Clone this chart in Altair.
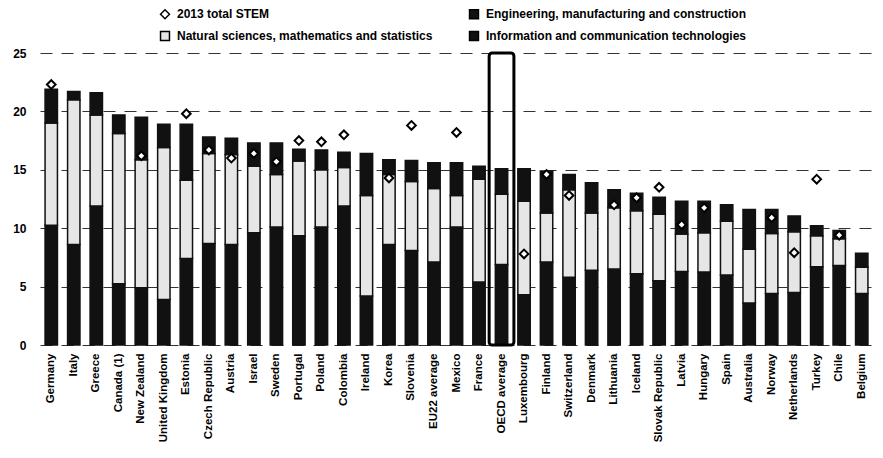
import altair as alt
import pandas as pd

countries = ["Germany", "Italy", "Greece", "Canada (1)", "New Zealand", "United Kingdom",
             "Estonia", "Czech Republic", "Austria", "Israel", "Sweden", "Portugal", "Poland",
             "Colombia", "Ireland", "Korea", "Slovenia", "EU22 average", "Mexico", "France",
             "OECD average", "Luxembourg", "Finland", "Switzerland", "Denmark", "Lithuania",
             "Iceland", "Slovak Republic", "Latvia", "Hungary", "Spain", "Australia", "Norway",
             "Netherlands", "Turkey", "Chile", "Belgium"]
engineering = [10.25, 8.6, 11.9, 5.25, 4.9, 3.9, 7.4, 8.7, 8.6, 9.6, 10.1, 9.35, 10.1, 11.9,
               4.2, 8.6, 8.1, 7.1, 10.1, 5.4, 6.9, 4.3, 7.1, 5.8, 6.4, 6.5, 6.1, 5.5, 6.3,
               6.25, 6.0, 3.6, 4.4, 4.5, 6.7, 6.8, 4.4]
natural = [8.75, 12.4, 7.8, 12.85, 10.95, 13.0, 6.7, 7.7, 7.7, 5.7, 4.5, 6.4, 4.9, 3.3, 8.6,
           6.0, 5.9, 6.3, 2.7, 8.8, 6.0, 8.0, 4.2, 7.5, 4.9, 5.25, 5.4, 5.7, 3.2, 3.35, 4.6,
           4.6, 5.15, 5.2, 2.65, 2.3, 2.25]
ict = [2.9, 0.7, 1.9, 1.6, 3.65, 2.0, 4.8, 1.4, 1.4, 2.0, 2.7, 1.0, 1.7, 1.3, 3.6, 1.25, 1.8,
       2.2, 2.8, 1.1, 2.2, 2.8, 3.6, 1.3, 2.6, 1.55, 1.5, 1.45, 2.8, 2.7, 1.4, 3.4, 2.05,
       1.35, 0.85, 0.7, 1.2]
stem_2013 = [22.3, None, None, None, 16.2, None, 19.8, 16.7, 16.0, 16.4, 15.7, 17.5, 17.4,
             18.0, None, 14.3, 18.8, None, 18.2, None, None, 7.8, 14.6, 12.8, None, 12.0,
             12.6, 13.5, 10.3, 11.75, None, None, 10.9, 7.9, 14.2, 9.4, None]

S_STEM = "2013 total STEM"
S_ENG = "Engineering, manufacturing and construction"
S_NAT = "Natural sciences, mathematics and statistics"
S_ICT = "Information and communication technologies"

highlight = ["OECD average"]
box_top = [25]
y_ticks = [0, 5, 10, 15, 20, 25]

legend_domain = [S_STEM, S_NAT, S_ENG, S_ICT]
legend_colors = ["white", "#e6e6e6", "#111111", "#111111"]
legend_shapes = ["diamond", "square", "square", "square"]

rows = []
for i, c in enumerate(countries):
    rows.append({"country": c, "series": S_ENG, "value": engineering[i], "order": 1})
    rows.append({"country": c, "series": S_NAT, "value": natural[i], "order": 2})
    rows.append({"country": c, "series": S_ICT, "value": ict[i], "order": 3})
bars_df = pd.DataFrame(rows)

pts_df = pd.DataFrame({"country": countries, "stem": stem_2013})
pts_df["series"] = S_STEM
pts_df = pts_df.dropna()

box_df = pd.DataFrame({"country": highlight, "lo": [0] * len(highlight), "hi": box_top})

FONT = "Liberation Sans"

legend = alt.Legend(title=None, orient="none", legendX=119, legendY=-45, columns=2,
                    columnPadding=33, rowPadding=6, symbolSize=80, labelFontSize=12,
                    labelFontWeight="bold", labelFont=FONT, labelLimit=400, labelOffset=6,
                    labelColor="black", symbolStrokeColor="black", symbolStrokeWidth=1.5,
                    padding=0)

color_scale = alt.Scale(domain=legend_domain, range=legend_colors)
shape_scale = alt.Scale(domain=legend_domain, range=legend_shapes)

x_enc = alt.X("country:N", sort=countries,
              scale=alt.Scale(paddingInner=0.45, paddingOuter=0.225),
              axis=alt.Axis(title=None, labelAngle=-90, labelFontSize=11.5,
                            labelFontWeight="bold", labelFont=FONT, labelColor="black",
                            ticks=False, domain=False, labelPadding=8, labelLimit=300))
y_scale = alt.Scale(domain=[0, 25], nice=False)
y_axis = alt.Axis(title=None, values=y_ticks, labelFontSize=12, labelFontWeight="bold",
                  labelFont=FONT, labelColor="black", ticks=False, domain=False,
                  labelPadding=14, grid=True, gridColor="#333333", gridDash=[12, 9],
                  gridWidth=1)

bars = alt.Chart(bars_df).mark_bar(stroke="#111111", strokeWidth=1.5).encode(
    x=x_enc,
    y=alt.Y("value:Q", stack="zero", scale=y_scale, axis=y_axis),
    color=alt.Color("series:N", scale=color_scale, legend=legend),
    order=alt.Order("order:Q"),
)

box = alt.Chart(box_df).mark_bar(filled=False, stroke="black", strokeWidth=3,
                                 cornerRadius=3, width=alt.RelativeBandSize(2.0)).encode(
    x=alt.X("country:N", sort=countries),
    y=alt.Y("lo:Q"),
    y2="hi:Q",
)

points = alt.Chart(pts_df).mark_point(filled=True, stroke="black", strokeWidth=2,
                                      size=75, opacity=1).encode(
    x=alt.X("country:N", sort=countries),
    y=alt.Y("stem:Q"),
    color=alt.Color("series:N", scale=color_scale, legend=legend),
    shape=alt.Shape("series:N", scale=shape_scale, legend=legend),
)

chart = alt.layer(bars, box, points).properties(
    width=833, height=292,
    padding={"left": 4, "top": 0, "right": 0, "bottom": 0},
    background="white",
).configure_view(stroke=None)

chart.save("out.html", embed_options={"renderer": "svg", "actions": False})
